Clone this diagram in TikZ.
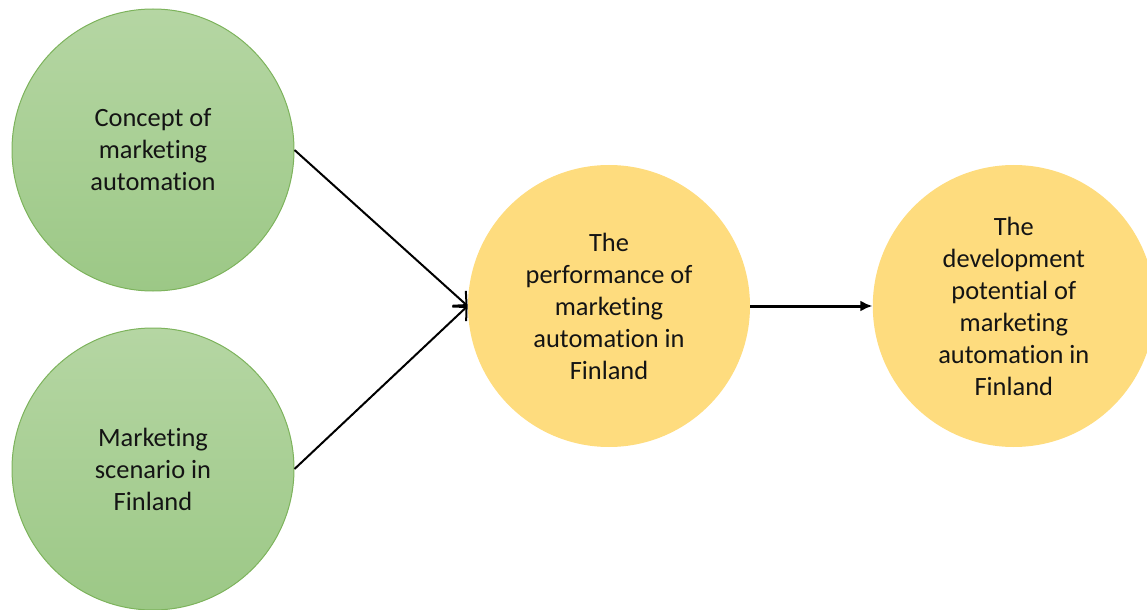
\documentclass[tikz,border=0pt]{standalone}
\usepackage{fontspec}
\setmainfont[Ligatures=CommonOff]{Carlito}
\usepackage{xcolor}
\usepackage{tikz}
\usetikzlibrary{arrows.meta, positioning}

\definecolor{leaftop}{HTML}{B5D6A3}
\definecolor{leafbottom}{HTML}{9CC886}
\definecolor{leafline}{HTML}{7DB35C}
\definecolor{sunfill}{HTML}{FEDC7E}
\definecolor{inkgray}{HTML}{141414}

\begin{document}
\begin{tikzpicture}[
  x=0.5pt, y=-0.5pt,
  >=Latex,
  node distance=18pt,
  basis/.style={circle, draw=leafline, line width=0.5pt, minimum size=141pt,
    top color=leaftop, bottom color=leafbottom, align=center, inner sep=0pt,
    text=inkgray, font=\fontsize{13.2}{16}\selectfont},
  outcome/.style={circle, fill=sunfill, minimum size=141pt, align=center,
    inner sep=0pt, text=inkgray, font=\fontsize{13.2}{16}\selectfont},
  feed/.style={line width=1pt, -{Straight Barb[length=5pt, width=10pt]}},
  lead/.style={line width=1.5pt, -{Latex[length=6pt, width=5.5pt]}}
]
\useasboundingbox (0,0) rectangle (1147,610);

\node[basis] (concept) at (153,150) {Concept of\\marketing\\automation};
\node[basis, below=of concept] (scenario) {Marketing\\scenario in\\Finland};
\node[outcome] (perf) at (609,306) {The\\performance of\\marketing\\automation in\\Finland};
\node[outcome, right=61pt of perf] (potential) {The\\development\\potential of\\marketing\\automation in\\Finland};

\draw[feed] (concept.east) -- (perf.west);
\draw[feed] (scenario.east) -- (perf.west);
\draw[lead] (perf.east) -- (potential.west);
\end{tikzpicture}
\end{document}
